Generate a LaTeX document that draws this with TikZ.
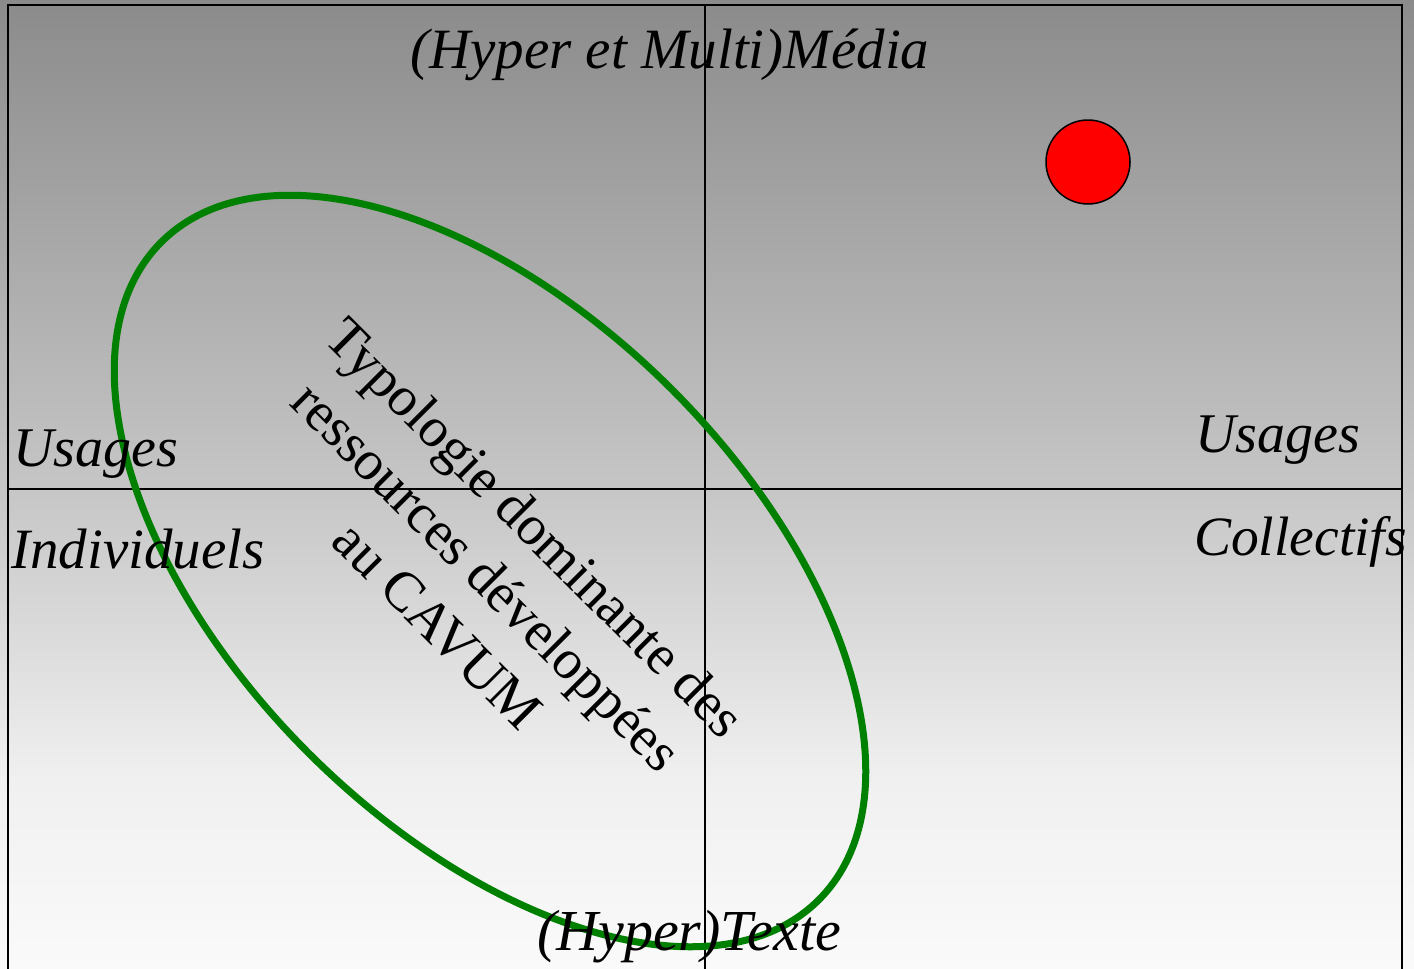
\documentclass[tikz,border=0pt]{standalone}
\usepackage{fontspec}
\setmainfont{Liberation Serif}
\usepackage{xcolor}
\definecolor{fondhaut}{RGB}{139,139,139}
\definecolor{fondmilieu}{RGB}{198,198,198}
\definecolor{fondclair}{RGB}{240,240,240}
\definecolor{fondbas}{RGB}{250,250,250}
\definecolor{vertcavum}{RGB}{0,128,0}
% background, the picture's height is mapped on 25bp (bottom) to 75bp (top)
\pgfdeclareverticalshading{fondcavum}{100bp}{color(0bp)=(fondbas); color(25bp)=(fondbas); color(34.75bp)=(fondclair); color(49.75bp)=(fondmilieu); color(75bp)=(fondhaut); color(100bp)=(fondhaut)}
\tikzset{
	etiq/.style={anchor=base west, inner sep=0pt, font=\fontsize{56}{67}\selectfont\itshape},
	axe/.style={line width=1.5pt},
}
\newcommand{\etiquette}[5] % name, x in px, y in px (baseline), font size, text
{
	\node[etiq, font=\fontsize{#4}{67}\selectfont\itshape] (#1) at (#2,#3) {#5};
}

\begin{document}
\begin{tikzpicture}[x=1pt, y=-1pt]
	% 1414 x 969 px, origin top left, y downwards
	\useasboundingbox (0,0) rectangle (1414,969);
	\shade[shading=fondcavum] (0,0) rectangle (1414,969);
	
	% frame, open at the bottom
	\draw[line width=2pt] (8,969) -- (8,5) -- (1402,5) -- (1402,969);
	
	% axes
	\draw[axe] (705,5) -- (705,969);
	\draw[axe] (8,489) -- (1402,489);
	
	% CAVUM zone
	\draw[vertcavum, line width=7pt, rotate around={-45:(490,571)}] (490,571) ellipse [x radius=465pt, y radius=257pt];
	
	% red dot
	\draw[fill=red, line width=1.5pt] (1088,162) circle [radius=42pt];
	
	\node[rotate=-45, align=center, inner sep=0pt, font=\fontsize{56}{69}\selectfont] (typo) at (487,576) {Typologie dominante des\\ressources développées\\au CAVUM};
	
	\etiquette{media}{410}{68}{57}{(Hyper et Multi)Média};
	\etiquette{texte}{537}{950}{58}{(Hyper)Texte};
	\etiquette{usind}{13}{466}{56}{Usages};
	\etiquette{ind}{11}{568}{57}{Individuels};
	\etiquette{uscol}{1195}{452}{56}{Usages};
	\etiquette{col}{1194}{555}{55.5}{Collectifs};
	
\end{tikzpicture}
\end{document}
